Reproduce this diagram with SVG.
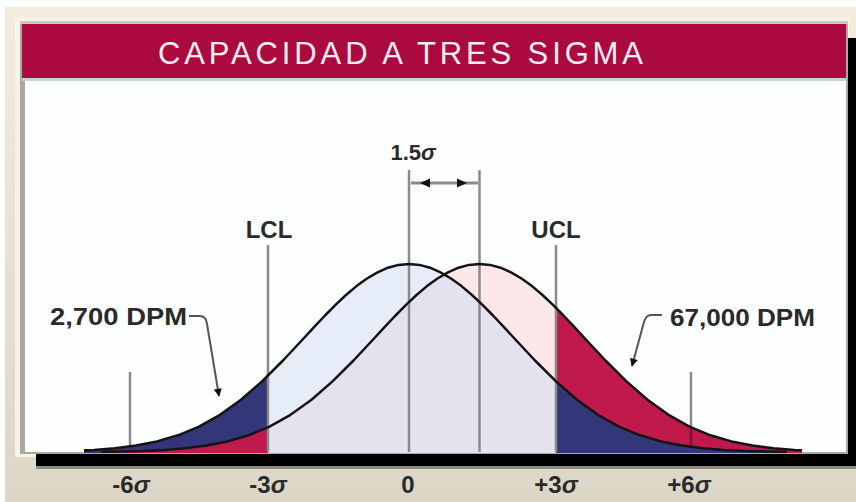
<svg xmlns="http://www.w3.org/2000/svg" width="856" height="502" viewBox="0 0 856 502">
<style>
.lbl{font-family:"Liberation Sans",Arial,sans-serif;font-weight:bold;fill:#2a2a2a;}
.vl{stroke:#8a8a8a;stroke-width:2.5;fill:none;}
.curve{fill:none;stroke:#141414;stroke-width:2.5;stroke-linejoin:round;}
.lead{fill:none;stroke:#555;stroke-width:2;}
.sig{font-style:italic;}
</style>
<defs>
<linearGradient id="bg" x1="0" y1="0" x2="0" y2="1">
<stop offset="0" stop-color="#f2ecdd"/>
<stop offset="1" stop-color="#dcd6c7"/>
</linearGradient>
<path id="bell" d="M-378,451.7 L-357,451.4 L-336,450.9 L-315,449.9 L-294,448.3 L-273,445.6 L-252,441.4 L-231,435.3 L-210,426.6 L-189,414.8 L-168,399.7 L-147,381.4 L-126,360.5 L-105,338 L-94.5,326.6 L-84,315.5 L-73.5,304.9 L-63,295 L-52.5,286.1 L-42,278.5 L-31.5,272.3 L-21,267.7 L-10.5,264.9 L0,264 L10.5,264.9 L21,267.7 L31.5,272.3 L42,278.5 L52.5,286.1 L63,295 L73.5,304.9 L84,315.5 L94.5,326.6 L105,338 L126,360.5 L147,381.4 L168,399.7 L189,414.8 L210,426.6 L231,435.3 L252,441.4 L273,445.6 L294,448.3 L315,449.9 L336,450.9 L357,451.4 L378,451.7"/>
<path id="bellArea" d="M-378,451.7 L-357,451.4 L-336,450.9 L-315,449.9 L-294,448.3 L-273,445.6 L-252,441.4 L-231,435.3 L-210,426.6 L-189,414.8 L-168,399.7 L-147,381.4 L-126,360.5 L-105,338 L-94.5,326.6 L-84,315.5 L-73.5,304.9 L-63,295 L-52.5,286.1 L-42,278.5 L-31.5,272.3 L-21,267.7 L-10.5,264.9 L0,264 L10.5,264.9 L21,267.7 L31.5,272.3 L42,278.5 L52.5,286.1 L63,295 L73.5,304.9 L84,315.5 L94.5,326.6 L105,338 L126,360.5 L147,381.4 L168,399.7 L189,414.8 L210,426.6 L231,435.3 L252,441.4 L273,445.6 L294,448.3 L315,449.9 L336,450.9 L357,451.4 L378,451.7 L378,453 L-378,453 Z"/>
<clipPath id="cPlot"><rect x="84" y="81" width="718" height="372"/></clipPath>
<clipPath id="cLeft"><rect x="84" y="81" width="184" height="372"/></clipPath>
<clipPath id="cMid"><rect x="268" y="81" width="288" height="372"/></clipPath>
<clipPath id="cRight"><rect x="556" y="81" width="246" height="372"/></clipPath>
<clipPath id="cC1"><use href="#bellArea" transform="translate(409,0)"/></clipPath>
<marker id="arr" viewBox="0 0 10 10" refX="9" refY="5" markerWidth="4.5" markerHeight="4" orient="auto" markerUnits="strokeWidth">
<path d="M0,0 L10,5 L0,10 Z" fill="#111"/>
</marker>
</defs>

<g id="background">
<rect x="0" y="0" width="856" height="502" fill="#ffffff"/>
<rect x="5" y="7" width="851" height="495" fill="url(#bg)"/>
<rect x="15" y="17" width="834" height="440" fill="#f8f3e5"/>
<rect x="36" y="38" width="820" height="428" fill="#000"/>
<rect x="36" y="466" width="820" height="3" fill="#8e8a80"/>
<rect x="20" y="21" width="828" height="433" fill="#a9a9a2"/>
<rect x="20" y="21" width="828" height="3" fill="#c8ccbf"/>
<rect x="25" y="81" width="821" height="371" fill="#fdfefe"/>
</g>

<g id="header">
<rect x="22" y="24" width="824" height="54" fill="#aa0a3f"/>
<rect x="22" y="78" width="824" height="3" fill="#c8d2cc"/>
<text x="158" y="64" font-family="'Liberation Sans',Arial,sans-serif" font-size="31" fill="#f7ecf1" textLength="485" lengthAdjust="spacing">CAPACIDAD A TRES SIGMA</text>
</g>

<g id="fills">
<g clip-path="url(#cMid)">
<use href="#bellArea" transform="translate(409,0)" fill="#e7edf8"/>
<use href="#bellArea" transform="translate(479.5,0)" fill="#fde7e9"/>
<g clip-path="url(#cC1)">
<use href="#bellArea" transform="translate(479.5,0)" fill="#e6e1ef"/>
</g>
</g>
<g clip-path="url(#cLeft)">
<use href="#bellArea" transform="translate(409,0)" fill="#333679"/>
<use href="#bellArea" transform="translate(479.5,0)" fill="#c0194b"/>
</g>
<g clip-path="url(#cRight)">
<use href="#bellArea" transform="translate(479.5,0)" fill="#c0194b"/>
<use href="#bellArea" transform="translate(409,0)" fill="#333679"/>
</g>
</g>

<g id="markers">
<line class="vl" x1="130" y1="372" x2="130" y2="446"/>
<line class="vl" x1="268" y1="245" x2="268" y2="452"/>
<line class="vl" x1="409" y1="170" x2="409" y2="452"/>
<line class="vl" x1="479.5" y1="170" x2="479.5" y2="452"/>
<line class="vl" x1="556" y1="245" x2="556" y2="452"/>
<line class="vl" x1="691" y1="372" x2="691" y2="427"/>
<line x1="691" y1="427" x2="691" y2="447" stroke="#7e1234" stroke-width="2.5"/>
</g>

<g id="curves" clip-path="url(#cPlot)">
<use href="#bell" class="curve" transform="translate(409,0)"/>
<use href="#bell" class="curve" transform="translate(479.5,0)"/>
</g>

<g id="shift">
<line x1="411" y1="183" x2="478" y2="183" stroke="#8a8a8a" stroke-width="3"/>
<polygon points="420,183 430,178.5 430,187.5" fill="#111"/>
<polygon points="467,183 457,178.5 457,187.5" fill="#111"/>
<text class="lbl" x="413" y="160" font-size="22" text-anchor="middle">1.5<tspan class="sig">σ</tspan></text>
</g>

<g id="limits">
<text class="lbl" x="269" y="238" font-size="24" text-anchor="middle">LCL</text>
<text class="lbl" x="556" y="238" font-size="24" text-anchor="middle">UCL</text>
</g>

<g id="connectors">
<path class="lead" d="M189,316 L200,316 Q206,316 207,324 L219,396" marker-end="url(#arr)"/>
<path class="lead" d="M662,315 L651,315 Q646,315 644,322 L632,366" marker-end="url(#arr)"/>
</g>

<g id="dpm">
<text class="lbl" x="50" y="325" font-size="23" textLength="137" lengthAdjust="spacingAndGlyphs">2,700 DPM</text>
<text class="lbl" x="670" y="326" font-size="23" textLength="145" lengthAdjust="spacingAndGlyphs">67,000 DPM</text>
</g>

<g id="axis">
<text class="lbl" x="131" y="493" font-size="24" text-anchor="middle">-6<tspan class="sig">σ</tspan></text>
<text class="lbl" x="268" y="493" font-size="24" text-anchor="middle">-3<tspan class="sig">σ</tspan></text>
<text class="lbl" x="408" y="493" font-size="24" text-anchor="middle">0</text>
<text class="lbl" x="556" y="493" font-size="24" text-anchor="middle">+3<tspan class="sig">σ</tspan></text>
<text class="lbl" x="689" y="493" font-size="24" text-anchor="middle">+6<tspan class="sig">σ</tspan></text>
</g>
</svg>
